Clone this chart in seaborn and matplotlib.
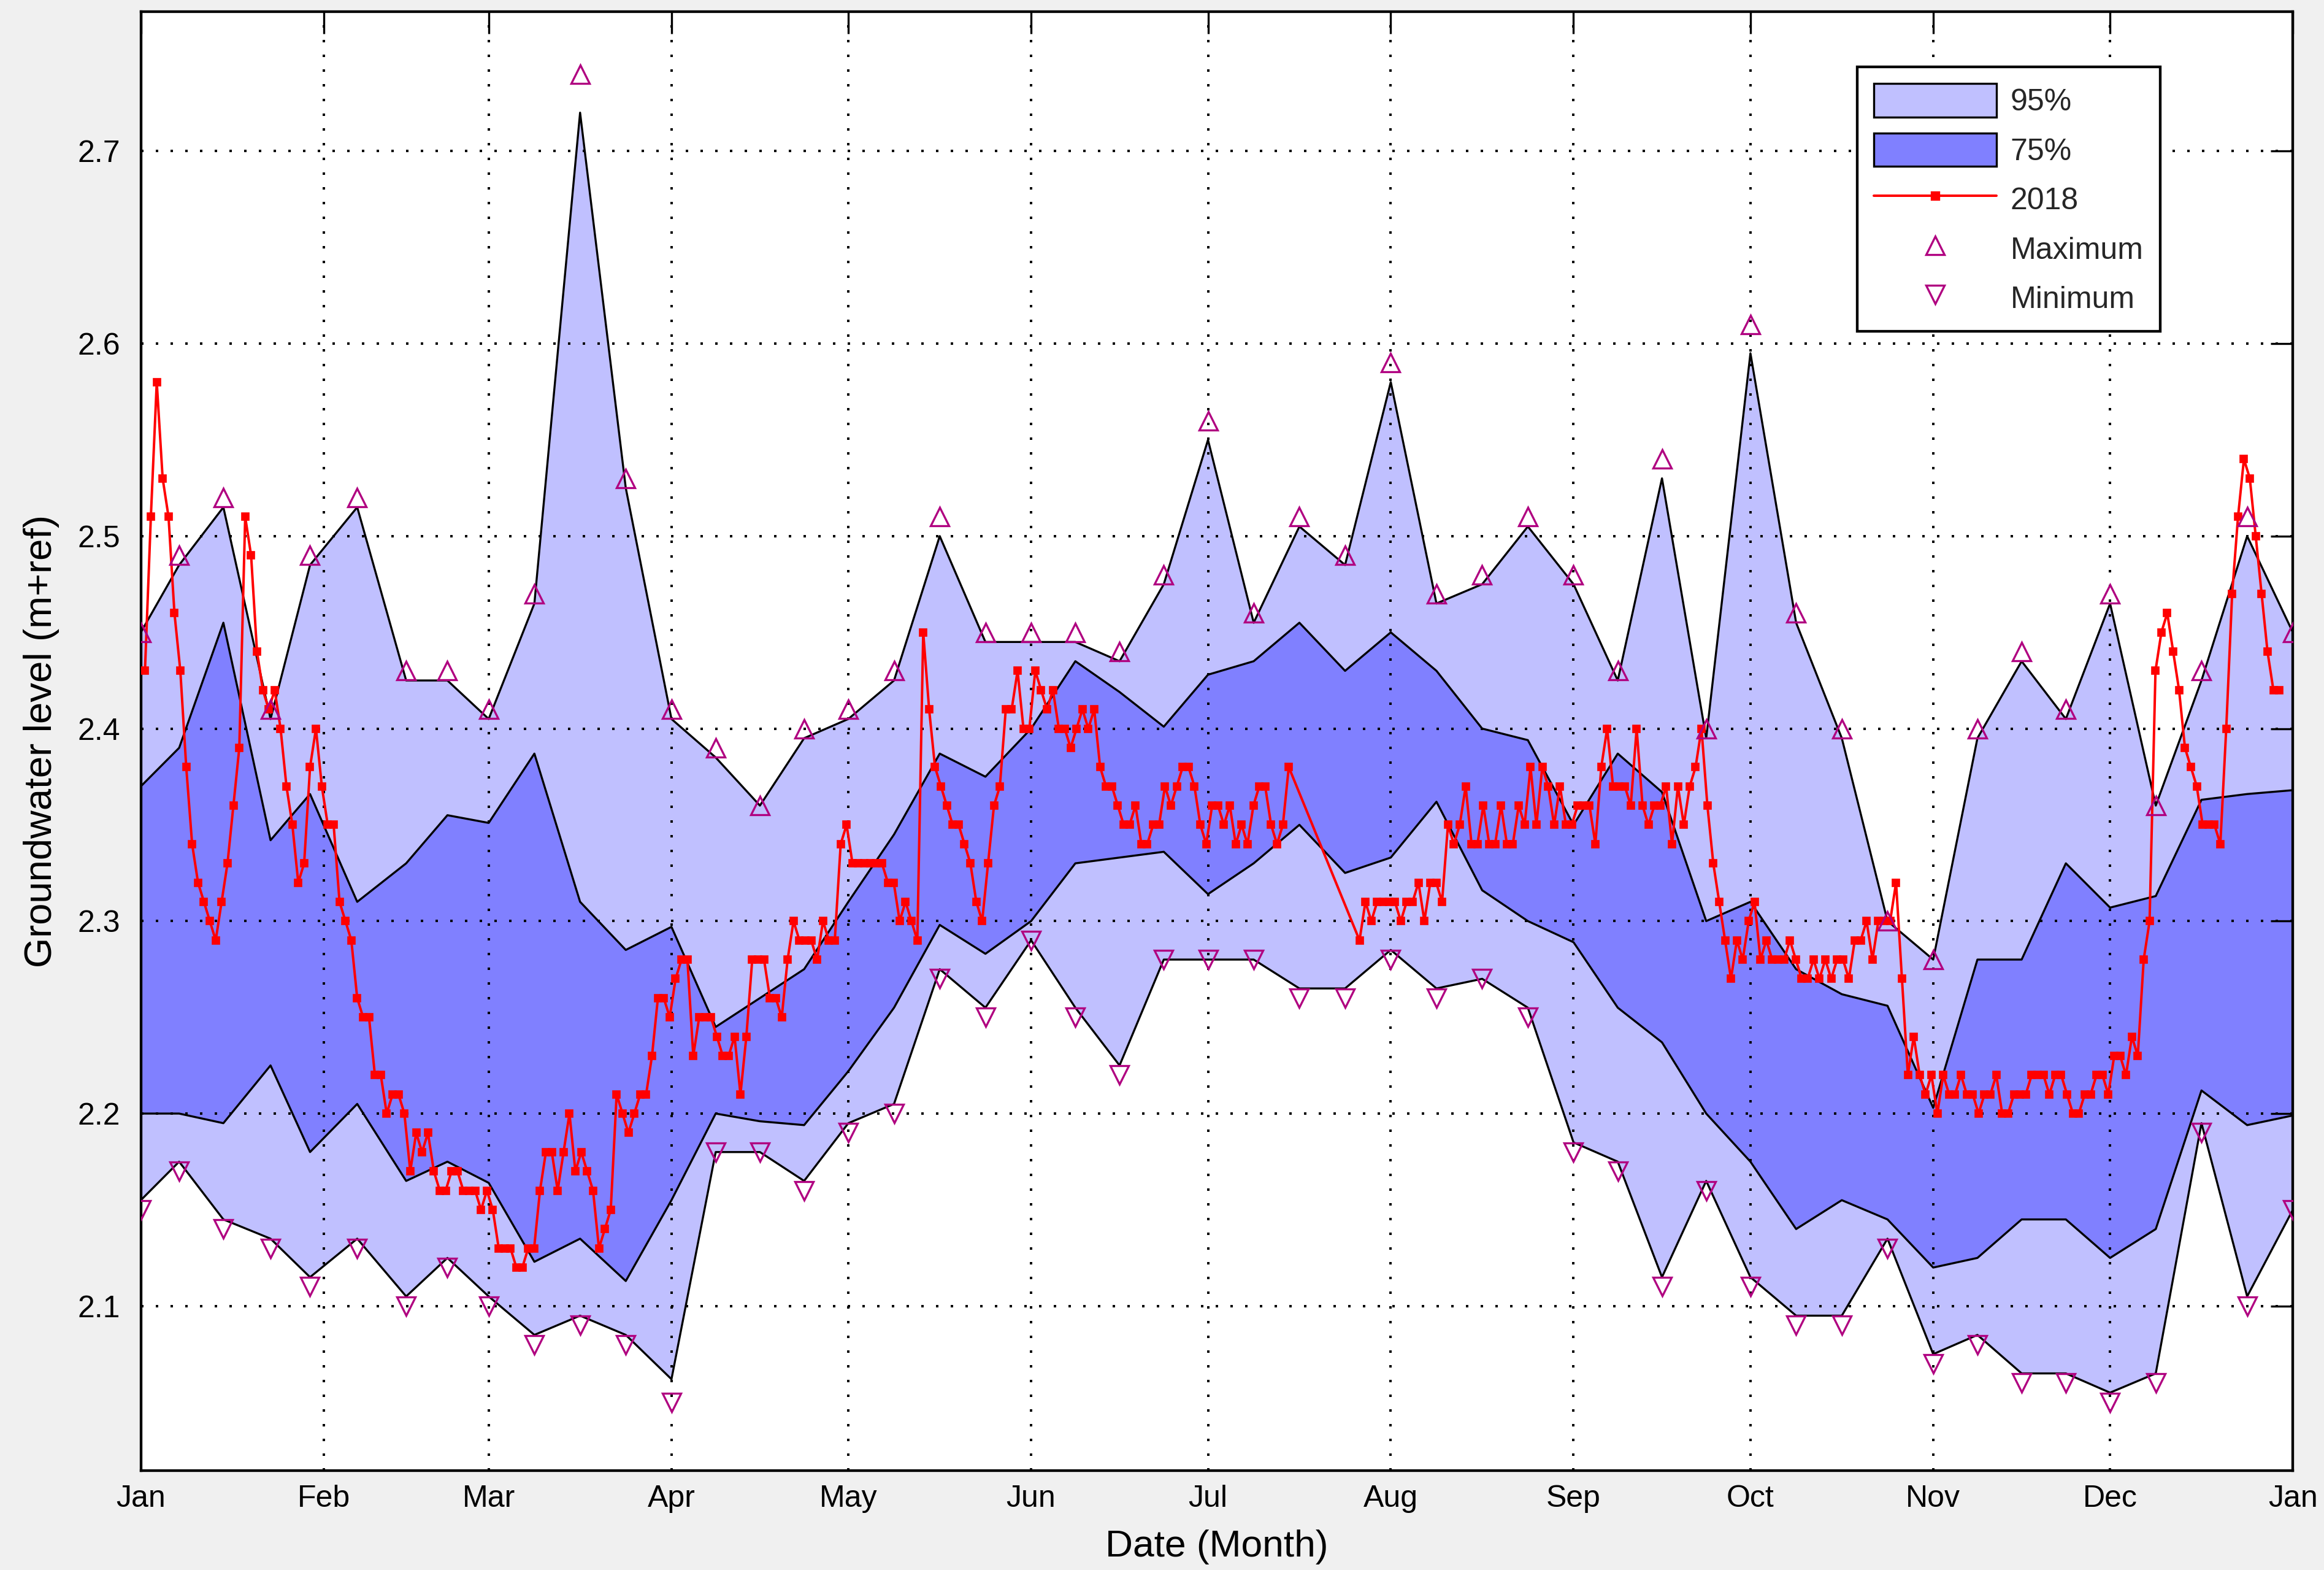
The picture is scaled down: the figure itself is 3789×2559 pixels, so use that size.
import numpy as np
import pandas as pd
import matplotlib
matplotlib.use("Agg")
import matplotlib.pyplot as plt
from matplotlib.patches import Patch
from matplotlib.lines import Line2D
import seaborn as sns

# ---------------- data ----------------
month_starts = [0, 31, 59, 90, 120, 151, 181, 212, 243, 273, 304, 334, 365]
month_labels = ["Jan", "Feb", "Mar", "Apr", "May", "Jun", "Jul", "Aug",
                "Sep", "Oct", "Nov", "Dec", "Jan"]
y_ticks = [2.1, 2.2, 2.3, 2.4, 2.5, 2.6, 2.7]

# statistics at roughly quarter-month steps (day of year)
stat_day = [0, 6.5, 14, 22, 28.7, 36.7, 45, 52, 59, 66.75, 74.5, 82.25,
            90, 97.5, 105, 112.5, 120, 127.75, 135.5, 143.25, 151, 158.5, 166, 173.5,
            181, 188.75, 196.5, 204.25, 212, 219.75, 227.5, 235.25, 243, 250.5, 258, 265.5,
            273, 280.75, 288.5, 296.25, 304, 311.5, 319, 326.5, 334, 341.75, 349.5, 357.25,
            365]
max_level = [2.45, 2.49, 2.52, 2.41, 2.49, 2.52, 2.43, 2.43, 2.41, 2.47, 2.74, 2.53,
             2.41, 2.39, 2.36, 2.40, 2.41, 2.43, 2.51, 2.45, 2.45, 2.45, 2.44, 2.48,
             2.56, 2.46, 2.51, 2.49, 2.59, 2.47, 2.48, 2.51, 2.48, 2.43, 2.54, 2.40,
             2.61, 2.46, 2.40, 2.30, 2.28, 2.40, 2.44, 2.41, 2.47, 2.36, 2.43, 2.51, 2.45]
upper95 = [2.45, 2.485, 2.515, 2.405, 2.485, 2.515, 2.425, 2.425, 2.405, 2.465, 2.72, 2.525,
           2.405, 2.385, 2.36, 2.395, 2.405, 2.425, 2.50, 2.445, 2.445, 2.445, 2.435, 2.475,
           2.55, 2.455, 2.505, 2.485, 2.58, 2.465, 2.475, 2.505, 2.475, 2.425, 2.53, 2.395,
           2.595, 2.455, 2.395, 2.30, 2.28, 2.395, 2.435, 2.405, 2.465, 2.36, 2.425, 2.50, 2.45]
upper75 = [2.37, 2.39, 2.455, 2.342, 2.366, 2.31, 2.33, 2.355, 2.351, 2.387, 2.31, 2.285,
           2.297, 2.245, 2.26, 2.275, 2.31, 2.345, 2.387, 2.375, 2.40, 2.435, 2.419, 2.401,
           2.428, 2.435, 2.455, 2.43, 2.45, 2.43, 2.40, 2.394, 2.35, 2.387, 2.367, 2.30,
           2.31, 2.275, 2.262, 2.256, 2.203, 2.28, 2.28, 2.33, 2.307, 2.313, 2.363, 2.366, 2.368]
lower75 = [2.20, 2.20, 2.195, 2.225, 2.18, 2.205, 2.165, 2.175, 2.164, 2.123, 2.135, 2.113,
           2.155, 2.20, 2.196, 2.194, 2.222, 2.255, 2.298, 2.283, 2.30, 2.33, 2.333, 2.336,
           2.314, 2.33, 2.35, 2.325, 2.333, 2.362, 2.316, 2.30, 2.289, 2.255, 2.237, 2.20,
           2.175, 2.14, 2.155, 2.145, 2.12, 2.125, 2.145, 2.145, 2.125, 2.14, 2.212, 2.194, 2.199]
lower95 = [2.155, 2.175, 2.145, 2.135, 2.115, 2.135, 2.105, 2.125, 2.105, 2.085, 2.095, 2.085,
           2.062, 2.18, 2.18, 2.165, 2.195, 2.205, 2.275, 2.255, 2.29, 2.255, 2.225, 2.28,
           2.28, 2.28, 2.265, 2.265, 2.285, 2.265, 2.27, 2.255, 2.185, 2.175, 2.115, 2.165,
           2.115, 2.095, 2.095, 2.135, 2.075, 2.085, 2.065, 2.065, 2.055, 2.065, 2.195, 2.105, 2.15]
min_level = [2.15, 2.17, 2.14, 2.13, 2.11, 2.13, 2.10, 2.12, 2.10, 2.08, 2.09, 2.08,
             2.05, 2.18, 2.18, 2.16, 2.19, 2.20, 2.27, 2.25, 2.29, 2.25, 2.22, 2.28,
             2.28, 2.28, 2.26, 2.26, 2.28, 2.26, 2.27, 2.25, 2.18, 2.17, 2.11, 2.16,
             2.11, 2.09, 2.09, 2.13, 2.07, 2.08, 2.06, 2.06, 2.05, 2.06, 2.19, 2.10, 2.15]

# daily 2018 record (days 195-205 missing)
obs_day = np.r_[0:195, 206:363]
level_jan = [2.43, 2.51, 2.58, 2.53, 2.51, 2.46, 2.43, 2.38, 2.34, 2.32, 2.31, 2.30, 2.29,
             2.31, 2.33, 2.36, 2.39, 2.51, 2.49, 2.44, 2.42, 2.41, 2.42, 2.40, 2.37, 2.35,
             2.32, 2.33, 2.38, 2.40, 2.37]
level_feb = [2.35, 2.35, 2.31, 2.30, 2.29, 2.26, 2.25, 2.25, 2.22, 2.22, 2.20, 2.21, 2.21,
             2.20, 2.17, 2.19, 2.18, 2.19, 2.17, 2.16, 2.16, 2.17, 2.17, 2.16, 2.16, 2.16,
             2.15, 2.16]
level_mar = [2.15, 2.13, 2.13, 2.13, 2.12, 2.12, 2.13, 2.13, 2.16, 2.18, 2.18, 2.16, 2.18,
             2.20, 2.17, 2.18, 2.17, 2.16, 2.13, 2.14, 2.15, 2.21, 2.20, 2.19, 2.20, 2.21,
             2.21, 2.23, 2.26, 2.26, 2.25]
level_apr = [2.27, 2.28, 2.28, 2.23, 2.25, 2.25, 2.25, 2.24, 2.23, 2.23, 2.24, 2.21, 2.24,
             2.28, 2.28, 2.28, 2.26, 2.26, 2.25, 2.28, 2.30, 2.29, 2.29, 2.29, 2.28, 2.30,
             2.29, 2.29, 2.34, 2.35]
level_may = [2.33, 2.33, 2.33, 2.33, 2.33, 2.33, 2.32, 2.32, 2.30, 2.31, 2.30, 2.29, 2.45,
             2.41, 2.38, 2.37, 2.36, 2.35, 2.35, 2.34, 2.33, 2.31, 2.30, 2.33, 2.36, 2.37,
             2.41, 2.41, 2.43, 2.40, 2.40]
level_jun = [2.43, 2.42, 2.41, 2.42, 2.40, 2.40, 2.39, 2.40, 2.41, 2.40, 2.41, 2.38, 2.37,
             2.37, 2.36, 2.35, 2.35, 2.36, 2.34, 2.34, 2.35, 2.35, 2.37, 2.36, 2.37, 2.38,
             2.38, 2.37, 2.35, 2.34]
level_jul = [2.36, 2.36, 2.35, 2.36, 2.34, 2.35, 2.34, 2.36, 2.37, 2.37, 2.35, 2.34, 2.35,
             2.38,
             2.29, 2.31, 2.30, 2.31, 2.31]
level_aug = [2.31, 2.31, 2.30, 2.31, 2.31, 2.32, 2.30, 2.32, 2.32, 2.31, 2.35, 2.34, 2.35,
             2.37, 2.34, 2.34, 2.36, 2.34, 2.34, 2.36, 2.34, 2.34, 2.36, 2.35, 2.38, 2.35,
             2.38, 2.37, 2.35, 2.37, 2.35, 2.35]
level_sep = [2.36, 2.36, 2.36, 2.34, 2.38, 2.40, 2.37, 2.37, 2.37, 2.36, 2.40, 2.36, 2.35,
             2.36, 2.36, 2.37, 2.34, 2.37, 2.35, 2.37, 2.38, 2.40, 2.36, 2.33, 2.31, 2.29,
             2.27, 2.29, 2.28, 2.30]
level_oct = [2.31, 2.28, 2.29, 2.28, 2.28, 2.28, 2.29, 2.28, 2.27, 2.27, 2.28, 2.27, 2.28,
             2.27, 2.28, 2.28, 2.27, 2.29, 2.29, 2.30, 2.28, 2.30, 2.30, 2.30, 2.32, 2.27,
             2.22, 2.24, 2.22]
level_nov = [2.21, 2.22, 2.20, 2.22, 2.21, 2.21, 2.22, 2.21, 2.21, 2.20, 2.21, 2.21, 2.22,
             2.20, 2.20, 2.21, 2.21, 2.21, 2.22, 2.22, 2.22, 2.21, 2.22, 2.22, 2.21, 2.20,
             2.20, 2.21, 2.21, 2.22, 2.22, 2.21]
level_dec = [2.23, 2.23, 2.22, 2.24, 2.23, 2.28, 2.30, 2.43, 2.45, 2.46, 2.44, 2.42, 2.39,
             2.38, 2.37, 2.35, 2.35, 2.35, 2.34, 2.40, 2.47, 2.51, 2.54, 2.53, 2.50, 2.47,
             2.44, 2.42, 2.42]
level_2018 = (level_jan + level_feb + level_mar + level_apr + level_may + level_jun +
              level_jul + level_aug + level_sep + level_oct + level_nov + level_dec)

# ---------------- style ----------------
LIGHT = "#C0C0FF"
DARK = "#8080FF"
MAGENTA = "#B00080"
DPI = 240

sns.set_theme(style="white")
plt.rcParams["font.family"] = ["Liberation Sans", "DejaVu Sans"]

fig = plt.figure(figsize=(3789 / DPI, 2559 / DPI), dpi=DPI, facecolor="#F0F0F0")
ax = fig.add_axes([0.0606, 0.0633, 0.9260, 0.9292])
ax.set_facecolor("white")

stats = pd.DataFrame({"day": stat_day, "max": max_level, "u95": upper95, "u75": upper75,
                      "l75": lower75, "l95": lower95, "min": min_level})
obs = pd.DataFrame({"day": obs_day + 0.7, "level": level_2018})

ax.fill_between(stats["day"], stats["l95"], stats["u95"], color=LIGHT, lw=0, zorder=1)
ax.fill_between(stats["day"], stats["l75"], stats["u75"], color=DARK, lw=0, zorder=1.1)
for col in ["u95", "u75", "l75", "l95"]:
    sns.lineplot(data=stats, x="day", y=col, ax=ax, color="black", lw=1.0, zorder=2)

sns.lineplot(data=obs, x="day", y="level", ax=ax, color="red", lw=1.2,
             marker="s", markersize=3.6, markeredgecolor="red", markeredgewidth=0.5,
             markerfacecolor="red", zorder=4)

ax.plot(stats["day"], stats["max"], ls="none", marker="^", ms=9, mfc="none",
        mec=MAGENTA, mew=1.0, zorder=5)
ax.plot(stats["day"], stats["min"], ls="none", marker="v", ms=9, mfc="none",
        mec=MAGENTA, mew=1.0, zorder=5)

ax.set_xlim(0, 365)
ax.set_ylim(2.0145, 2.7724)
ax.set_xticks(month_starts)
ax.set_xticklabels(month_labels)
ax.set_yticks(y_ticks)
ax.set_yticklabels([f"{v:.1f}" for v in y_ticks])

ax.set_axisbelow(False)
ax.grid(True, color="black", lw=1.2, ls=(0, (1, 5)))
ax.tick_params(axis="both", which="major", direction="in", length=10.8, width=1.0,
               top=True, right=True, labelsize=15, colors="black")
ax.tick_params(axis="x", pad=7)
ax.tick_params(axis="y", pad=10)
for s in ax.spines.values():
    s.set_visible(True)
    s.set_color("black")
    s.set_linewidth(1.3)

ax.set_xlabel("Date (Month)", fontsize=18.7, labelpad=8, color="black")
ax.set_ylabel("Groundwater level (m+ref)", fontsize=19, labelpad=9, color="black")

handles = [
    Patch(facecolor=LIGHT, edgecolor="black", lw=1.0),
    Patch(facecolor=DARK, edgecolor="black", lw=1.0),
    Line2D([0], [0], color="red", lw=1.2, marker="s", ms=3.6, mfc="red", mec="red"),
    Line2D([0], [0], ls="none", marker="^", ms=9, mfc="none", mec=MAGENTA, mew=1.0),
    Line2D([0], [0], ls="none", marker="v", ms=9, mfc="none", mec=MAGENTA, mew=1.0),
]
labels = ["95%", "75%", "2018", "Maximum", "Minimum"]
leg = ax.legend(handles, labels, loc="upper left", bbox_to_anchor=(0.7975, 0.9624),
                fontsize=15, frameon=True, fancybox=False, framealpha=1, edgecolor="black",
                handlelength=4.0, handleheight=1.3, labelspacing=0.52, handletextpad=0.45,
                borderpad=0.55, borderaxespad=0)
leg.get_frame().set_linewidth(1.3)
leg.set_zorder(10)

fig.savefig("out.png", dpi=DPI, facecolor=fig.get_facecolor())
